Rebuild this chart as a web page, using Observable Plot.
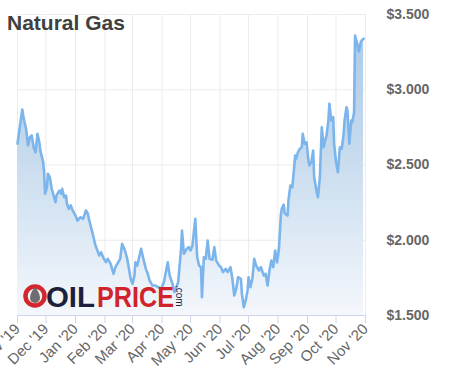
<!DOCTYPE html>
<html>
<head>
<meta charset="utf-8">
<script src="https://cdn.jsdelivr.net/npm/d3@7"></script>
<script src="https://cdn.jsdelivr.net/npm/@observablehq/plot@0.6"></script>
<style>
  html, body { margin: 0; padding: 0; background: #fff; }
  #wrap { position: relative; width: 450px; height: 391px; overflow: hidden; font-family: "Liberation Sans", Arial, sans-serif; }
  #title { position: absolute; left: 7px; top: 12px; font-size: 21px; line-height: 21px; font-weight: bold; color: #404040; white-space: nowrap; }
  #logo { position: absolute; left: 0; top: 0; pointer-events: none; }
</style>
</head>
<body>
<div id="wrap">
  <div id="chart"></div>
  <div id="title">Natural Gas</div>
  <svg id="logo" width="450" height="391" xmlns="http://www.w3.org/2000/svg">
    <circle cx="35" cy="296" r="9.5" fill="none" stroke="#d6262d" stroke-width="4.5"/>
    <path d="M35,287 Q40,293 40,298 A5,5 0 1 1 30,298 Q30,293 35,287Z" fill="#6e6e70"/>
    <text x="46" y="307" font-family="Liberation Sans, Arial, sans-serif" font-weight="bold" font-size="30" fill="#1e1f3d" textLength="49" lengthAdjust="spacingAndGlyphs">OIL</text>
    <text x="97" y="307" font-family="Liberation Sans, Arial, sans-serif" font-weight="bold" font-size="30" fill="#d0232b" textLength="77" lengthAdjust="spacingAndGlyphs">PRICE</text>
    <text x="0" y="0" transform="translate(176,285) rotate(90)" font-family="Liberation Sans, Arial, sans-serif" font-size="10" fill="#1e1f3d">.com</text>
  </svg>
</div>
<script>
// Days since 2019-11-01 and the front-month natural gas price ($/MMBtu)
const startDate = "2019-11-01";
const days = [0,5,6,7,9,11,13,15,17,19,21,23,24,27,28,29,31,32,34,36,38,40,41,44,46,47,49,51,52,54,56,58,61,63,66,69,72,74,75,79,82,86,88,90,93,95,98,101,103,106,108,110,113,115,117,119,121,123,124,126,130,132,135,137,139,142,145,148,151,154,158,160,163,165,169,172,173,175,178,180,182,184,187,189,191,193,194,196,198,200,202,205,207,209,212,214,216,219,221,224,226,228,230,232,235,236,238,240,242,243,245,247,249,251,254,256,259,261,263,265,267,269,271,273,275,277,278,280,281,284,285,287,289,291,292,293,295,297,299,300,302,304,306,307,309,311,312,315,316,318,320,322,323,325,327,328,330,332,333,335,337,339,341,343,344,346,347,349,351,352,354,355,357,359,361,362,364];
const prices = [2.641,2.869,2.829,2.796,2.740,2.630,2.685,2.696,2.618,2.585,2.707,2.651,2.596,2.519,2.452,2.309,2.352,2.441,2.419,2.342,2.297,2.253,2.297,2.330,2.309,2.342,2.286,2.297,2.242,2.209,2.231,2.198,2.164,2.131,2.153,2.142,2.198,2.176,2.144,2.045,1.965,1.899,1.920,1.887,1.854,1.877,1.843,1.777,1.821,1.854,1.877,1.976,1.932,1.887,1.821,1.744,1.710,1.766,1.854,1.832,1.943,1.887,1.810,1.777,1.732,1.699,1.699,1.688,1.677,1.721,1.854,1.766,1.710,1.655,1.721,1.943,2.065,1.910,1.943,1.954,1.932,1.965,2.142,1.887,1.832,1.821,1.621,1.887,1.877,1.998,1.877,1.870,1.954,1.865,1.832,1.821,1.788,1.810,1.788,1.821,1.744,1.633,1.677,1.754,1.744,1.644,1.555,1.600,1.666,1.754,1.688,1.744,1.877,1.832,1.799,1.821,1.766,1.777,1.699,1.799,1.865,1.821,1.932,1.852,1.945,2.171,2.211,2.237,2.178,2.164,2.264,2.364,2.352,2.485,2.563,2.541,2.585,2.608,2.618,2.707,2.641,2.651,2.530,2.497,2.519,2.596,2.419,2.309,2.286,2.419,2.751,2.618,2.651,2.696,2.796,2.907,2.796,2.818,2.641,2.519,2.452,2.618,2.608,2.707,2.796,2.884,2.862,2.641,2.796,2.784,2.849,3.360,3.314,3.254,3.316,3.327,3.339];

const monthTicks = ["2019-11-01","2019-12-01","2020-01-01","2020-02-01","2020-03-01","2020-04-01","2020-05-01","2020-06-01","2020-07-01","2020-08-01","2020-09-01","2020-10-01","2020-11-01"];
const monthLabels = ["Nov '19","Dec '19","Jan '20","Feb '20","Mar '20","Apr '20","May '20","Jun '20","Jul '20","Aug '20","Sep '20","Oct '20","Nov '20"];
const priceTicks = [1.5, 2.0, 2.5, 3.0, 3.5];

const start = new Date(startDate + "T00:00:00Z");
const data = days.map((d, i) => ({date: d3.utcDay.offset(start, d), price: prices[i]}));
const tickDates = monthTicks.map(s => new Date(s + "T00:00:00Z"));
const labelOf = new Map(tickDates.map((d, i) => [+d, monthLabels[i]]));

const chart = Plot.plot({
  width: 450,
  height: 391,
  marginTop: 14,
  marginBottom: 76,
  marginLeft: 17,
  marginRight: 85,
  style: {fontFamily: "'Liberation Sans', Arial, sans-serif", background: "#fff", overflow: "visible"},
  x: {type: "utc", domain: [tickDates[0], tickDates[tickDates.length - 1]]},
  y: {domain: [1.5, 3.5]},
  marks: [
    Plot.gridX(tickDates, {stroke: "#ececec", strokeOpacity: 1}),
    Plot.gridY(priceTicks, {stroke: "#ececec", strokeOpacity: 1}),
    Plot.areaY(data, {x: "date", y1: 1.5, y2: "price", fill: "url(#ngGrad)"}),
    Plot.lineY(data, {x: "date", y: "price", stroke: "#7cb5ec", strokeWidth: 2.6, strokeLinejoin: "round"}),
    Plot.ruleY([1.5], {stroke: "#ccd6eb"}),
    Plot.axisX(tickDates, {
      tickSize: 8, stroke: "#ccd6eb", tickPadding: 3, tickRotate: -45,
      tickFormat: d => labelOf.get(+d), fontSize: 15, fill: "#666", label: null
    }),
    Plot.axisY(priceTicks, {
      anchor: "right", tickSize: 0, tickPadding: 21,
      tickFormat: d => "$" + d.toFixed(3), fontSize: 14, fontWeight: "bold", fill: "#666", label: null
    })
  ]
});

const ns = "http://www.w3.org/2000/svg";
const ys = chart.scale("y");
const defs = document.createElementNS(ns, "defs");
const grad = document.createElementNS(ns, "linearGradient");
grad.setAttribute("id", "ngGrad");
grad.setAttribute("gradientUnits", "userSpaceOnUse");
grad.setAttribute("x1", 0); grad.setAttribute("x2", 0);
grad.setAttribute("y1", ys.apply(3.5)); grad.setAttribute("y2", ys.apply(1.5));
[[0, "#a9c9ea"], [0.45, "#c6daed"], [0.65, "#d6e5f3"], [1, "#f4f7fb"]].forEach(([o, c]) => {
  const s = document.createElementNS(ns, "stop");
  s.setAttribute("offset", o); s.setAttribute("stop-color", c);
  grad.appendChild(s);
});
defs.appendChild(grad);
chart.insertBefore(defs, chart.firstChild);

document.getElementById("chart").appendChild(chart);
</script>
</body>
</html>
